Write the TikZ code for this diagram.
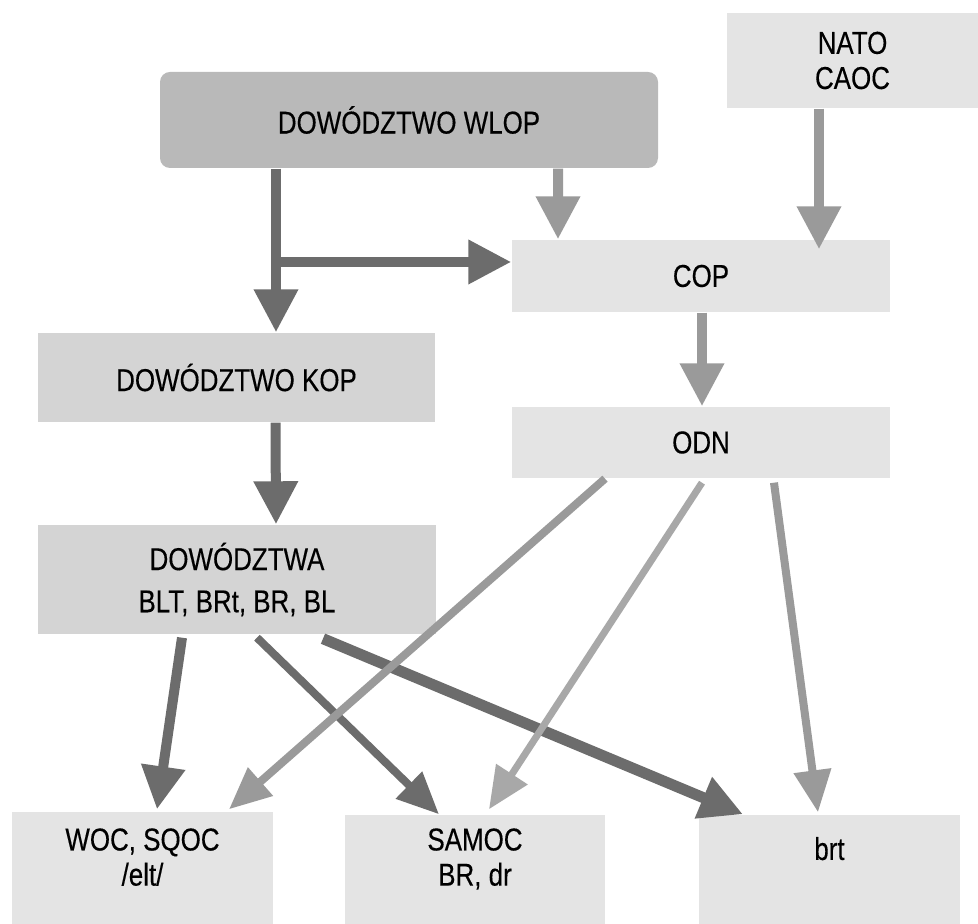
\documentclass[tikz,border=0pt]{standalone}
\usepackage{fontspec}
\setmainfont[FakeStretch=0.82, FakeBold=0.3]{Liberation Sans}
\usetikzlibrary{arrows.meta}
\definecolor{wlopgray}{HTML}{B9B9B9}
\definecolor{kopgray}{HTML}{D4D4D4}
\definecolor{boxgray}{HTML}{E4E4E4}
\definecolor{arrowdark}{HTML}{6C6C6C}
\definecolor{arrowmid}{HTML}{9A9A9A}
\definecolor{arrowlight}{HTML}{A8A8A8}

\begin{document}
\begin{tikzpicture}[
  box/.style = {fill=boxgray, inner sep=0pt, align=center, font=\fontsize{9}{10}\selectfont},
  big/.style = {line width=0.1cm, -{Triangle[width=0.42cm, length=0.43cm]}},
  slim/.style = {line width=0.08cm, -{Triangle[width=0.36cm, length=0.42cm]}}
]
  \useasboundingbox (0,0) rectangle (9.78,9.24);
  \fill[white] (0,0) rectangle (9.78,9.24);

  % boxes
  \node[box, fill=wlopgray, rounded corners=0.1cm, minimum width=4.98cm, minimum height=0.96cm] (wlop) at (4.09,8.04) {DOWÓDZTWO WLOP};
  \node[box, minimum width=2.51cm, minimum height=0.95cm] (nato) at (8.525,8.635) {NATO\\CAOC};
  \node[box, minimum width=3.78cm, minimum height=0.72cm] (cop) at (7.01,6.48) {COP};
  \node[box, minimum width=3.78cm, minimum height=0.71cm] (odn) at (7.01,4.815) {ODN};
  \node[box, fill=kopgray, minimum width=3.97cm, minimum height=0.89cm] (kop) at (2.365,5.465) {DOWÓDZTWO KOP};
  \node[box, fill=kopgray, minimum width=3.98cm, minimum height=1.09cm, font=\fontsize{9}{12}\selectfont] (dow) at (2.37,3.445) {DOWÓDZTWA\\BLT, BRt, BR, BL};
  \node[box, minimum width=2.61cm, minimum height=1.12cm, text depth=0.22cm] (woc) at (1.425,0.56) {WOC, SQOC\\/elt/};
  \node[box, minimum width=2.60cm, minimum height=1.09cm, text depth=0.25cm] (samoc) at (4.75,0.545) {SAMOC\\BR, dr};
  \node[box, minimum width=2.61cm, minimum height=1.09cm, text depth=0.42cm] (brt) at (8.295,0.545) {brt};

  % arrows from the top
  \coordinate (split) at (2.76,6.62);
  \draw[big, arrowdark] (wlop.south -| split) -- (split |- kop.north);
  \draw[big, arrowdark] (split) -- (split -| cop.west);
  \draw[big, arrowmid] ([xshift=1.49cm]wlop.south) -- ([xshift=-1.43cm]cop.north);
  \draw[big, arrowmid] ([xshift=-0.335cm]nato.south) -- ([xshift=1.18cm,yshift=-0.1cm]cop.north);
  \draw[big, arrowmid] ([xshift=0.01cm]cop.south) -- ([xshift=0.01cm]odn.north);
  \draw[big, arrowdark] ([xshift=0.39cm]kop.south) -- ([xshift=0.39cm]dow.north);

  % arrows to the bottom row
  \draw[big, arrowdark] ([xshift=-0.55cm,yshift=-0.03cm]dow.south) -- ([xshift=0.145cm,yshift=0.02cm]woc.north);
  \draw[slim, arrowdark] ([xshift=0.20cm,yshift=-0.03cm]dow.south) -- ([xshift=-0.36cm]samoc.north);
  \draw[big, arrowdark, line width=0.11cm] ([xshift=0.86cm,yshift=-0.04cm]dow.south) -- ([xshift=-0.865cm]brt.north);
  \draw[slim, arrowmid] ([xshift=-0.96cm]odn.south) -- ([xshift=0.865cm,yshift=0.02cm]woc.north);
  \draw[slim, arrowlight, line width=0.07cm] ([xshift=0.01cm,yshift=-0.04cm]odn.south) -- ([xshift=0.14cm,yshift=0.05cm]samoc.north);
  \draw[slim, arrowmid] ([xshift=0.73cm,yshift=-0.04cm]odn.south) -- ([xshift=-0.115cm,yshift=0.02cm]brt.north);
\end{tikzpicture}
\end{document}
